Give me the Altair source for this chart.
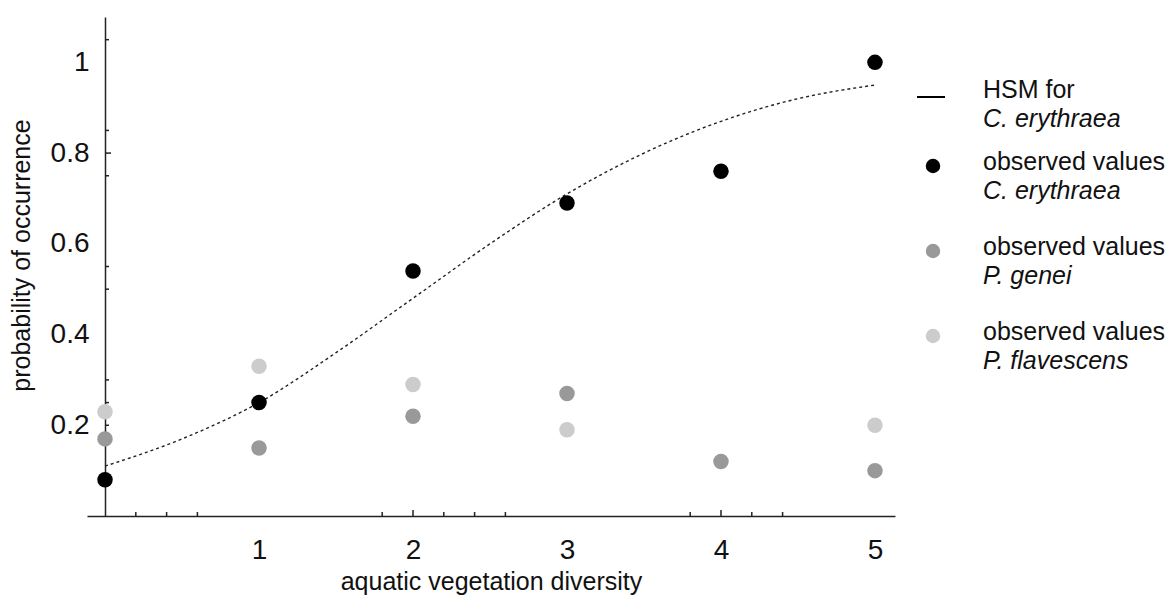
import altair as alt
import pandas as pd

# Aquatic vegetation diversity classes
x_vals = [0, 1, 2, 3, 4, 5]

# Observed probabilities of occurrence
c_erythraea = [0.08, 0.25, 0.54, 0.69, 0.76, 1.00]
p_genei = [0.17, 0.15, 0.22, 0.27, 0.12, 0.10]
p_flavescens = [0.23, 0.33, 0.29, 0.19, None, 0.20]

# Habitat suitability model curve for C. erythraea
hsm_x = [0, 0.5, 1, 1.5, 2, 2.5, 3, 3.5, 4, 4.5, 5]
hsm_y = [0.11, 0.17, 0.25, 0.36, 0.48, 0.60, 0.71, 0.80, 0.87, 0.92, 0.95]

# Axis labels and inward tick marks
x_labels = [1, 2, 3, 4, 5]
y_labels = [0.2, 0.4, 0.6, 0.8, 1.0]
x_minor_ticks = [0.2, 0.4, 0.6, 1.8, 2.2, 2.4, 2.6, 3.8, 4.2, 4.4]
x_major_ticks = [2, 4]
y_minor_ticks = [0.2, 0.25, 0.3, 0.5, 0.55, 0.75, 0.85, 1.05]
y_major_ticks = [0.8]

BLACK = "#000000"
DARK_GREY = "#999999"
LIGHT_GREY = "#cccccc"
INK = "#222222"
FONT = "Liberation Sans"

W, H = 808, 499
x_scale = alt.Scale(domain=[-0.117, 5.13], nice=False, zero=False)
y_scale = alt.Scale(domain=[0, 1.1], nice=False, zero=False)

points = pd.DataFrame({
    "x": x_vals * 3,
    "p": c_erythraea + p_genei + p_flavescens,
    "species": ["C. erythraea"] * 6 + ["P. genei"] * 6 + ["P. flavescens"] * 6,
}).dropna()
curve = pd.DataFrame({"x": hsm_x, "p": hsm_y})

x_enc = alt.X(
    "x:Q", scale=x_scale,
    axis=alt.Axis(values=x_labels, format="~g", ticks=False, tickSize=0,
                  labelPadding=20, title="aquatic vegetation diversity",
                  titlePadding=5),
)
y_enc = alt.Y(
    "p:Q", scale=y_scale,
    axis=alt.Axis(values=y_labels, format="~g", ticks=False, tickSize=0,
                  offset=-18, labelPadding=16,
                  title="probability of occurrence", titlePadding=16,
                  titleY=238),
)


def dots(name, color):
    return alt.Chart(points).transform_filter(
        alt.datum.species == name
    ).mark_circle(size=240, opacity=1, color=color).encode(x=x_enc, y=y_enc)


hsm_line = alt.Chart(curve).mark_line(
    color=INK, strokeWidth=1.4, strokeDash=[3, 3], interpolate="monotone"
).encode(x=x_enc, y=y_enc)


def y_ticks(vals, length):
    return alt.Chart(pd.DataFrame({"v": vals})).mark_rule(
        color=INK, strokeWidth=1.5
    ).encode(y=alt.Y("v:Q", scale=y_scale), x=alt.datum(0), x2=alt.datum(length))


def x_ticks(vals, length):
    return alt.Chart(pd.DataFrame({"v": vals})).mark_rule(
        color=INK, strokeWidth=1.5
    ).encode(x=alt.X("v:Q", scale=x_scale), y=alt.datum(0), y2=alt.datum(length))


# Legend drawn beside the plot: symbol column and two-line labels
one = pd.DataFrame({"a": [0]})
legend_entries = [
    ("line", BLACK, "HSM for", "C. erythraea"),
    ("dot", BLACK, "observed values", "C. erythraea"),
    ("dot", DARK_GREY, "observed values", "P. genei"),
    ("dot", LIGHT_GREY, "observed values", "P. flavescens"),
]
legend_top = [73, 145, 230, 315]
legend_symbol_y = [80, 149, 234, 319]
line_gap = 29
sym_x, text_x = 846, 896

legend_layers = []
for (kind, color, line1, line2), ty, sy in zip(legend_entries, legend_top, legend_symbol_y):
    if kind == "line":
        legend_layers.append(
            alt.Chart(one).mark_rule(color=color, strokeWidth=2).encode(
                x=alt.value(sym_x - 16), x2=alt.value(sym_x + 12), y=alt.value(sy)
            )
        )
    else:
        legend_layers.append(
            alt.Chart(one).mark_circle(size=210, opacity=1, color=color).encode(
                x=alt.value(sym_x), y=alt.value(sy)
            )
        )
    legend_layers.append(
        alt.Chart(one).mark_text(
            align="left", baseline="middle", font=FONT, fontSize=25, color="#111"
        ).encode(x=alt.value(text_x), y=alt.value(ty), text=alt.value(line1))
    )
    legend_layers.append(
        alt.Chart(one).mark_text(
            align="left", baseline="middle", font=FONT, fontSize=25,
            fontStyle="italic", color="#111"
        ).encode(x=alt.value(text_x), y=alt.value(ty + line_gap), text=alt.value(line2))
    )

chart = alt.layer(
    y_ticks(y_minor_ticks, 0.026),
    y_ticks(y_major_ticks, 0.039),
    x_ticks(x_minor_ticks, 0.0088),
    x_ticks(x_major_ticks, 0.0132),
    dots("P. flavescens", LIGHT_GREY),
    dots("P. genei", DARK_GREY),
    hsm_line,
    dots("C. erythraea", BLACK),
    *legend_layers,
).properties(
    width=W, height=H,
    autosize=alt.AutoSizeParams(type="none"),
    padding={"left": 87, "top": 17, "right": 278, "bottom": 83},
).configure_view(
    stroke=None
).configure_axis(
    grid=False, domainColor=INK, domainWidth=1.5,
    labelFont=FONT, labelFontSize=28, labelColor="#111",
    titleFont=FONT, titleFontSize=25, titleFontWeight="normal", titleColor="#111",
)

chart.save("out.html", embed_options={"renderer": "svg", "actions": False})
